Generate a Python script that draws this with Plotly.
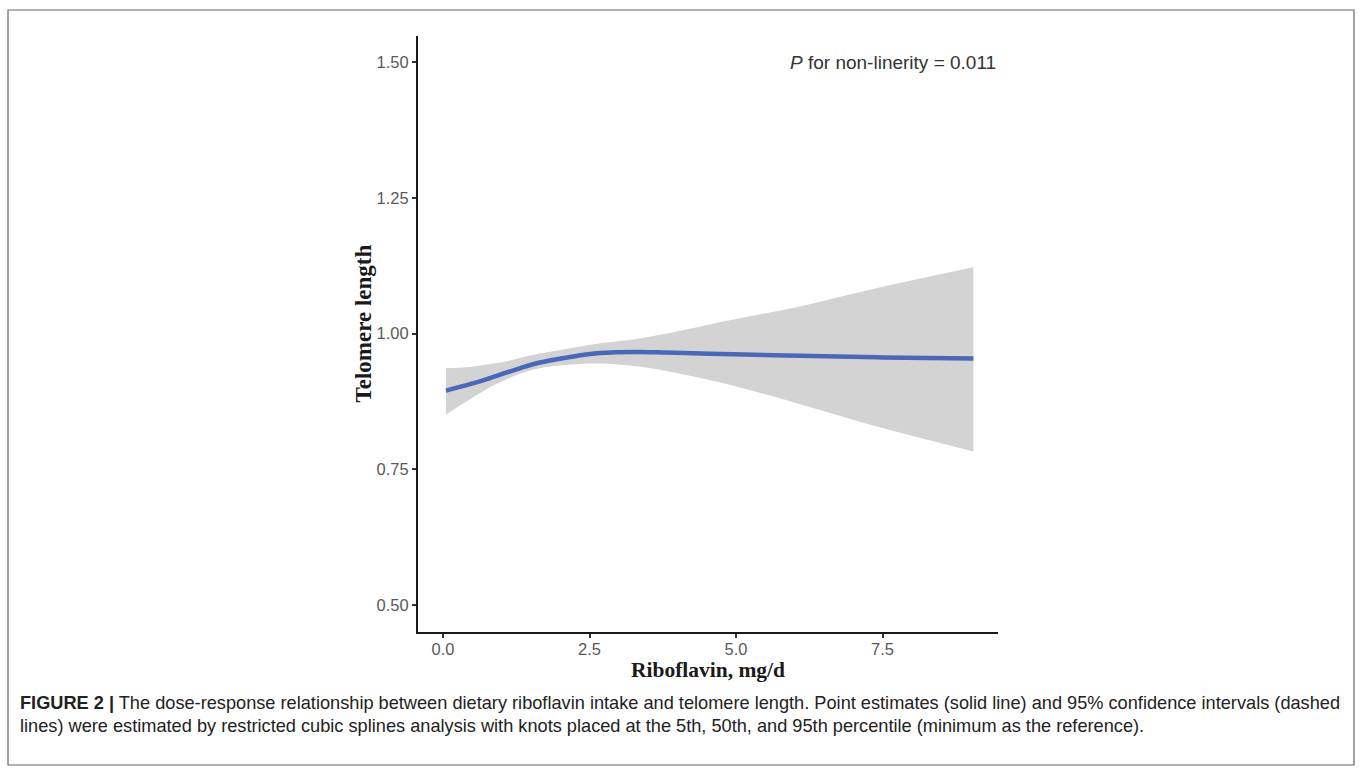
import plotly.graph_objects as go

# Data
riboflavin = [0.05, 0.4, 0.75, 1.05, 1.31, 1.55, 1.8, 2.17, 2.68, 3.3, 3.82, 4.95, 6.09, 7.5, 9.05]
estimate   = [0.895, 0.905, 0.916, 0.927, 0.936, 0.944, 0.950, 0.957, 0.964, 0.966, 0.965, 0.962, 0.959, 0.956, 0.954]
upper_ci   = [0.936, 0.938, 0.943, 0.948, 0.955, 0.961, 0.966, 0.973, 0.982, 0.990, 1.000, 1.026, 1.050, 1.086, 1.122]
lower_ci   = [0.851, 0.875, 0.898, 0.914, 0.926, 0.934, 0.939, 0.943, 0.945, 0.940, 0.931, 0.904, 0.870, 0.826, 0.783]

x_ticks = [0.0, 2.5, 5.0, 7.5]
x_tick_labels = ["0.0", "2.5", "5.0", "7.5"]
y_ticks = [0.50, 0.75, 1.00, 1.25, 1.50]
y_tick_labels = ["0.50", "0.75", "1.00", "1.25", "1.50"]

fig = go.Figure()
fig.add_trace(go.Scatter(x=riboflavin, y=upper_ci, mode="lines", line=dict(width=0, shape="spline"),
                         showlegend=False, hoverinfo="skip"))
fig.add_trace(go.Scatter(x=riboflavin, y=lower_ci, mode="lines", line=dict(width=0, shape="spline"),
                         fill="tonexty", fillcolor="#d3d3d3", showlegend=False, hoverinfo="skip"))
fig.add_trace(go.Scatter(x=riboflavin, y=estimate, mode="lines",
                         line=dict(color="#4a67b8", width=4.5, shape="spline"), showlegend=False))

tick_font = dict(family="Liberation Sans, Arial, sans-serif", size=16.5, color="#5a5a5a")
title_font = dict(family="Liberation Serif, Times New Roman, serif", size=21.5, color="#1a1a1a")
caption_font = dict(family="Liberation Sans, Arial, sans-serif", size=18.2, color="#222222")

fig.update_layout(
    width=1360, height=772,
    margin=dict(l=418, r=362, t=36, b=140),
    paper_bgcolor="white", plot_bgcolor="white",
    xaxis=dict(range=[-0.427, 9.47], tickvals=x_ticks, ticktext=x_tick_labels,
               showgrid=False, zeroline=False, showline=True, linecolor="#1a1a1a", linewidth=2,
               ticks="outside", ticklen=4, tickwidth=1.5, tickcolor="#333333", tickfont=tick_font,
               ticklabelstandoff=-3,
               title=dict(text="<b>Riboflavin, mg/d</b>", font=title_font, standoff=0)),
    yaxis=dict(range=[0.4504, 1.548], tickvals=y_ticks, ticktext=y_tick_labels,
               showgrid=False, zeroline=False, showline=True, linecolor="#1a1a1a", linewidth=2,
               ticks="outside", ticklen=4, tickwidth=1.5, tickcolor="#333333", tickfont=tick_font),
    shapes=[dict(type="rect", xref="paper", yref="paper", x0=-410/580, x1=1+356/580,
                 y0=-(765-632)/596, y1=1+(26)/596, line=dict(color="#666666", width=1.2),
                 fillcolor="rgba(0,0,0,0)", layer="below")],
    annotations=[
        dict(text="<b>Telomere length</b>", xref="paper", yref="paper", textangle=-90,
             x=(363 - 418) / 580, y=1 - (323.5 - 36) / 596, xanchor="center", yanchor="middle",
             showarrow=False, font=dict(family="Liberation Serif, Times New Roman, serif", size=23, color="#1a1a1a")),
        dict(text="<i>P</i> for non-linerity = 0.011", xref="paper", yref="paper",
             x=1.0, y=1 - (62 - 36) / 596, xanchor="right", yanchor="middle", showarrow=False,
             font=dict(family="Liberation Sans, Arial, sans-serif", size=19, color="#333333")),
        dict(text="<b>FIGURE 2 |</b> The dose-response relationship between dietary riboflavin intake and telomere length. "
                  "Point estimates (solid line) and 95% confidence intervals (dashed",
             xref="paper", yref="paper", x=-400/580, y=-(703 - 632) / 596, xanchor="left", yanchor="middle",
             showarrow=False, font=caption_font),
        dict(text="lines) were estimated by restricted cubic splines analysis with knots placed at the 5th, 50th, and 95th percentile "
                  "(minimum as the reference).",
             xref="paper", yref="paper", x=-400/580, y=-(726 - 632) / 596, xanchor="left", yanchor="middle",
             showarrow=False, font=caption_font),
    ],
)

fig.write_html("out.html", config={"displayModeBar": False},
               post_script="document.body.style.margin='0';document.body.style.overflow='hidden';")
